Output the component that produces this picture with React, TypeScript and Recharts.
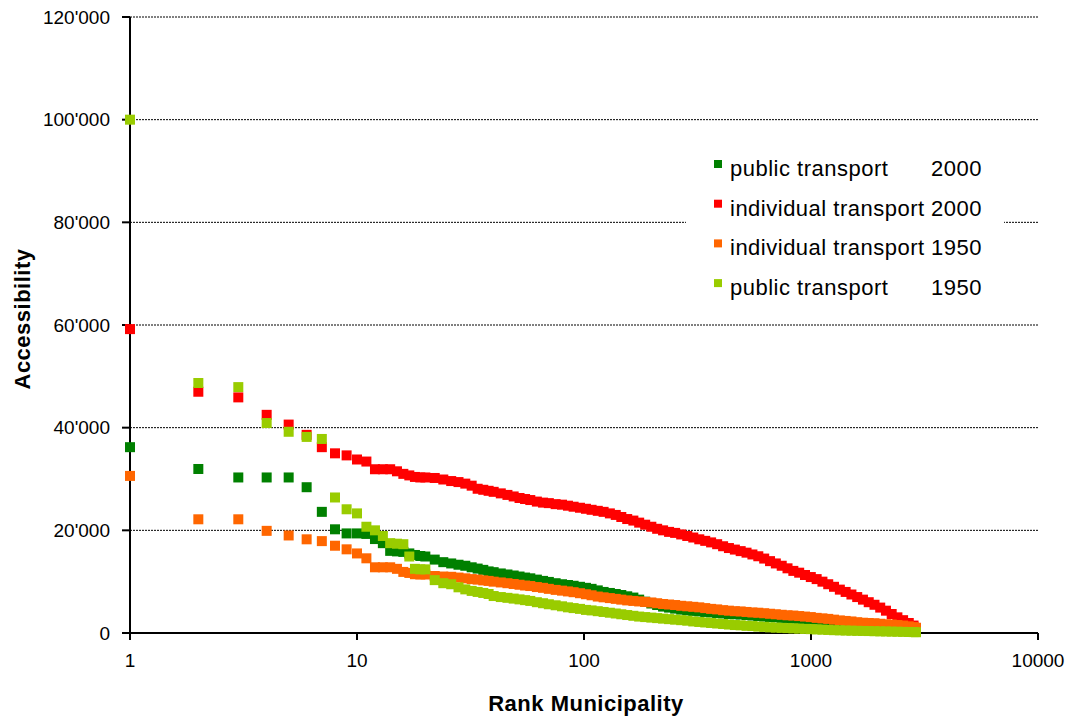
import React from 'react';
import { ScatterChart, Scatter, XAxis, YAxis, CartesianGrid } from 'recharts';

const RANKS = [1,2,3,4,5,6,7,8,9,10,11,12,13,14,15,16,17,18,19,20,22,24,26,28,30,32,34,36,38,40,43,46,49,52,55,58,62,66,70,75,80,85,90,96,102,108,115,122,130,138,146,155,165,175,186,198,210,223,237,252,268,285,303,322,342,363,386,410,435,462,490,520,552,586,622,660,700,743,788,836,887,941,998,1059,1123,1191,1263,1340,1421,1507,1598,1694,1796,1904,2018,2139,2267,2402,2545,2696,2830,2900];

const PT2000 = [36200,31950,30300,30300,30300,28400,23600,20200,19400,19400,19300,18300,17500,16000,15900,15800,15500,15200,15000,14900,14300,13800,13550,13300,13100,12800,12550,12300,12000,11850,11600,11400,11200,11000,10800,10650,10400,10150,9950,9700,9500,9350,9200,9000,8800,8600,8300,8000,7800,7600,7400,7150,6900,6500,6100,5750,5450,5150,4950,4750,4550,4400,4300,4200,4100,4000,3900,3800,3700,3650,3600,3500,3400,3300,3200,3100,3050,2950,2850,2800,2750,2700,2650,2600,2550,2450,2350,2250,2150,2000,1900,1800,1700,1600,1500,1350,1200,1050,850,650,450,300];

const IT2000 = [59200,47000,45900,42500,40600,38600,36200,35000,34600,33800,33400,31900,31900,31900,31500,31000,30700,30400,30300,30300,30200,29900,29600,29400,29100,28700,28100,27900,27700,27500,27200,26900,26600,26300,26100,25900,25600,25400,25300,25100,25000,24800,24600,24400,24200,24000,23800,23600,23300,23000,22600,22200,21900,21500,21100,20700,20300,20000,19700,19500,19200,18900,18600,18250,17950,17650,17300,16900,16550,16250,15950,15650,15300,14950,14500,14000,13550,13100,12600,12100,11750,11300,10900,10500,10000,9500,9000,8450,8000,7500,7000,6500,6000,5500,4950,4350,3700,3050,2500,1950,1450,1000];

const IT1950 = [30600,22150,22150,19900,19000,18250,17900,17000,16300,15500,14550,12800,12800,12800,12500,11900,11700,11450,11400,11400,11100,11000,10950,10800,10650,10500,10400,10250,10150,10000,9850,9700,9550,9400,9250,9150,8950,8800,8600,8400,8250,8100,7950,7750,7550,7350,7100,6950,6800,6650,6500,6350,6250,6150,6050,5950,5800,5650,5550,5450,5300,5200,5100,5000,4850,4700,4600,4450,4350,4250,4200,4100,4000,3950,3850,3750,3650,3550,3450,3400,3300,3200,3100,2950,2850,2750,2600,2450,2350,2250,2100,2000,1950,1900,1800,1700,1650,1550,1450,1300,1150,1000];

const PT1950 = [100000,48700,47900,40900,39200,38200,37800,26400,24100,23300,20700,20000,18900,17500,17400,17300,14900,12500,12400,12400,10300,9700,9500,8900,8500,8200,8000,7800,7600,7200,7000,6850,6700,6550,6400,6250,6000,5800,5600,5400,5200,5000,4850,4700,4500,4400,4250,4100,3950,3800,3650,3500,3350,3200,3100,3000,2900,2800,2700,2600,2500,2400,2250,2150,2050,1950,1850,1750,1650,1550,1500,1400,1350,1250,1200,1100,1050,1000,950,900,850,800,750,700,650,600,550,520,480,450,420,400,380,350,320,300,270,250,220,200,180,150];

const X_TICKS = [1, 10, 100, 1000, 10000];
const Y_TICKS = [0, 20000, 40000, 60000, 80000, 100000, 120000];

const SERIES_NAMES = ['public transport', 'individual transport', 'individual transport', 'public transport'];
const SERIES_YEARS = ['2000', '2000', '1950', '1950'];
const SERIES_COLORS = ['#008000', '#FF0000', '#FF6600', '#99CC00'];
const SERIES_VALUES = [PT2000, IT2000, IT1950, PT1950];

const FONT = '"Liberation Sans", Arial, sans-serif';

const toPoints = (vals: number[]) => RANKS.map((r, i) => ({ x: r, y: vals[i] }));

const makeSquare = (color: string) => (props: any) => {
  const { cx, cy } = props;
  if (cx == null || cy == null) return <g />;
  return <rect x={cx - 5} y={cy - 5} width={10} height={10} fill={color} />;
};

const fmtY = (v: number) => (v === 0 ? '0' : `${v / 1000}'000`);

export default function App() {
  return (
    <div style={{ position: 'absolute', left: 0, top: 0, width: 1073, height: 717, background: '#fff' }}>
      <ScatterChart width={1073} height={717} margin={{ top: 17, right: 35, bottom: 0, left: 0 }}>
        <CartesianGrid horizontal={true} vertical={false} stroke="#000" strokeDasharray="2 1" strokeWidth={1} />
        <XAxis
          type="number"
          dataKey="x"
          scale="log"
          domain={[1, 10000]}
          ticks={X_TICKS}
          height={84}
          axisLine={{ stroke: '#000', strokeWidth: 2 }}
          tickLine={{ stroke: '#000', strokeWidth: 2 }}
          tickSize={7}
          tickMargin={14}
          tick={{ fill: '#000', fontSize: 19, fontFamily: FONT }}
          tickFormatter={(v: number) => String(v)}
          interval={0}
        />
        <YAxis
          type="number"
          dataKey="y"
          domain={[0, 120000]}
          ticks={Y_TICKS}
          width={130}
          axisLine={{ stroke: '#000', strokeWidth: 2 }}
          tickLine={{ stroke: '#000', strokeWidth: 2 }}
          tickSize={8}
          tickMargin={12}
          tick={{ fill: '#000', fontSize: 19, fontFamily: FONT }}
          tickFormatter={fmtY}
          interval={0}
        />
        {SERIES_VALUES.map((vals, i) => (
          <Scatter
            key={i}
            name={`${SERIES_NAMES[i]} ${SERIES_YEARS[i]}`}
            data={toPoints(vals)}
            fill={SERIES_COLORS[i]}
            shape={makeSquare(SERIES_COLORS[i])}
            isAnimationActive={false}
          />
        ))}
      </ScatterChart>
      <svg width={1073} height={717} style={{ position: 'absolute', left: 0, top: 0, pointerEvents: 'none' }}>
        <rect x={686} y={142} width={318} height={164} fill="#fff" />
        {SERIES_NAMES.map((n, i) => {
          const base = 176 + i * 39.7;
          return (
            <g key={i}>
              <rect x={714} y={base - 16} width={8} height={8} fill={SERIES_COLORS[i]} />
              <text x={730} y={base} fontSize={22} letterSpacing={0.5} fontFamily={FONT} fill="#000">{n}</text>
              <text x={982} y={base} fontSize={22} letterSpacing={0.5} fontFamily={FONT} fill="#000" textAnchor="end">{SERIES_YEARS[i]}</text>
            </g>
          );
        })}
        <text x={586} y={711} fontSize={22} fontWeight="bold" letterSpacing={0.5} fontFamily={FONT} fill="#000" textAnchor="middle">Rank Municipality</text>
        <text x={30} y={319} fontSize={22} fontWeight="bold" letterSpacing={0.5} fontFamily={FONT} fill="#000" textAnchor="middle" transform="rotate(-90 30 319)">Accessibility</text>
      </svg>
    </div>
  );
}
